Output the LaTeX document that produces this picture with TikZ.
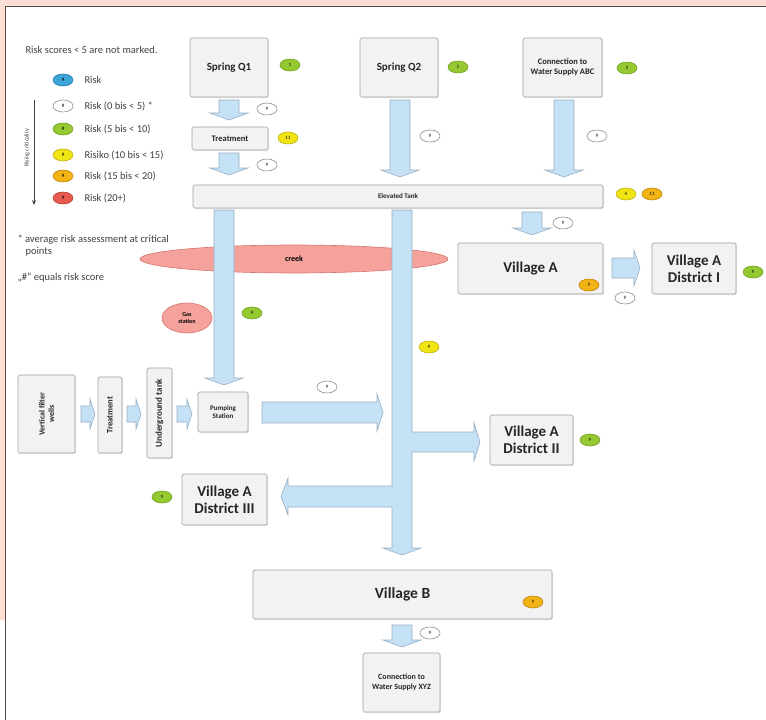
\documentclass[tikz,border=0pt]{standalone}
\usepackage{fontspec}
\setmainfont{Carlito}
\usetikzlibrary{shapes.geometric,shadows,arrows.meta}
\definecolor{pinkbg}{RGB}{252,222,212}
\definecolor{frameln}{RGB}{90,75,72}
\definecolor{boxfill}{RGB}{242,242,242}
\definecolor{boxline}{RGB}{160,160,160}
\definecolor{arrfill}{RGB}{197,225,245}
\definecolor{arrline}{RGB}{150,175,195}
\definecolor{bgreen}{RGB}{150,200,50}
\definecolor{bgreenl}{RGB}{110,160,30}
\definecolor{byellow}{RGB}{240,228,20}
\definecolor{byellowl}{RGB}{190,175,10}
\definecolor{borange}{RGB}{242,180,20}
\definecolor{borangel}{RGB}{190,130,10}
\definecolor{bred}{RGB}{232,90,80}
\definecolor{bredl}{RGB}{180,60,55}
\definecolor{bblue}{RGB}{60,165,215}
\definecolor{bbluel}{RGB}{30,120,170}
\definecolor{creekfill}{RGB}{246,162,156}
\definecolor{creekline}{RGB}{215,115,110}
\tikzset{
  box/.style={draw=boxline, fill=boxfill, rounded corners=1.5pt, line width=0.7pt,
    align=center, inner sep=1pt, text=black!85,
    drop shadow={opacity=0.18, shadow xshift=1pt, shadow yshift=-1pt}},
  badge/.style={ellipse, minimum width=20pt, minimum height=12pt, inner sep=0pt,
    line width=0.6pt, font=\fontsize{5}{5}\selectfont},
  bgr/.style={badge, fill=bgreen, draw=bgreenl},
  bye/.style={badge, fill=byellow, draw=byellowl},
  bor/.style={badge, fill=borange, draw=borangel},
  bre/.style={badge, fill=bred, draw=bredl},
  bbl/.style={badge, fill=bblue, draw=bbluel},
  bwh/.style={badge, fill=white, draw=black!45},
  blk/.style={fill=arrfill, draw=arrline, line width=0.6pt, line join=miter},
  lgtext/.style={anchor=west, font=\fontsize{10.5}{11}\selectfont, text=black!75},
}
\newcommand{\dnarrow}[3]{%
  \filldraw[blk] (#1-10,#2) -- (#1+10,#2) -- (#1+10,#3-7) -- (#1+19,#3-7) -- (#1,#3)
    -- (#1-19,#3-7) -- (#1-10,#3-7) -- cycle;}
\newcommand{\smallright}[3]{% x1 x2 ycenter
  \filldraw[blk] (#1,#3-8) -- (#2-5,#3-8) -- (#2-5,#3-15) -- (#2,#3) -- (#2-5,#3+15)
    -- (#2-5,#3+8) -- (#1,#3+8) -- cycle;}
\begin{document}
\begin{tikzpicture}[x=1pt,y=-1pt]
\useasboundingbox (0,0) rectangle (766,720);
% frame
\fill[pinkbg] (0,0) rectangle (766,6);
\fill[pinkbg] (0,0) rectangle (5,620);
\draw[frameln, line width=1.4pt] (5.5,720) -- (5.5,6.7) -- (766,6.7);

% legend
\node[lgtext] (lhead) at (22,50) {Risk scores < 5 are not marked.};
\node[bbl] (l1) at (63,80) {\#};
\node[bwh] (l2) at (63,106) {\#};
\node[bgr] (l3) at (63,129) {\#};
\node[bye] (l4) at (63,155) {\#};
\node[bor] (l5) at (63,176) {\#};
\node[bre] (l6) at (63,198) {\#};
\node[lgtext] (t1) at (81,80) {Risk};
\node[lgtext] (t2) at (81,106) {Risk (0 bis < 5) *};
\node[lgtext] (t3) at (81,129) {Risk (5 bis < 10)};
\node[lgtext] (t4) at (81,155) {Risiko (10 bis < 15)};
\node[lgtext] (t5) at (81,176) {Risk (15 bis < 20)};
\node[lgtext] (t6) at (81,198) {Risk (20+)};
\coordinate (rc1) at (34,100);
\coordinate (rc2) at (34,205);
\draw[-{Stealth[length=5pt,width=4pt]}, line width=0.8pt, black!75] (rc1) -- (rc2);
\node[rotate=90, font=\fontsize{6}{6}\selectfont, text=black!75] (rct) at (27,148) {Rising criticality};
\node[lgtext] (fn1) at (14,240) {* average risk assessment at critical};
\node[lgtext] (fn2) at (22,252) {points};
\node[lgtext] (fn3) at (14,278) {„\#“ equals risk score};

% creek and gas station
\node[ellipse, fill=creekfill, draw=creekline, line width=0.6pt, minimum width=308pt,
  minimum height=28pt, font=\bfseries\fontsize{8}{8}\selectfont] (creek) at (294,259) {creek};
\node[ellipse, fill=creekfill, draw=creekline, line width=0.6pt, minimum width=50pt,
  minimum height=30pt, inner sep=0pt, align=center, font=\bfseries\fontsize{6}{6.5}\selectfont] (gas) at (187,318) {Gas\\station};

% boxes
\node[box, minimum width=78pt, minimum height=59pt, font=\bfseries\fontsize{11}{12}\selectfont] (q1) at (229,67.5) {Spring Q1};
\node[box, minimum width=78pt, minimum height=59pt, font=\bfseries\fontsize{11}{12}\selectfont] (q2) at (399,67.5) {Spring Q2};
\node[box, minimum width=79pt, minimum height=59pt, font=\bfseries\fontsize{8.5}{10}\selectfont] (abc) at (562.5,67.5) {Connection to\\Water Supply ABC};
\node[box, minimum width=76pt, minimum height=23pt, font=\bfseries\fontsize{8.5}{9}\selectfont] (treat) at (230,138.5) {Treatment};
\node[box, minimum width=410pt, minimum height=23pt, font=\bfseries\fontsize{7}{8}\selectfont] (tank) at (398,196.5) {Elevated Tank};
\node[box, minimum width=145pt, minimum height=51pt, font=\bfseries\fontsize{15}{17}\selectfont] (villA) at (530.5,268.5) {Village A};
\node[box, minimum width=84pt, minimum height=51pt, font=\bfseries\fontsize{15}{17}\selectfont] (distI) at (694,268.5) {Village A\\District I};
\node[box, minimum width=83pt, minimum height=50pt, font=\bfseries\fontsize{15}{17}\selectfont] (distII) at (531.5,440) {Village A\\District II};
\node[box, minimum width=85pt, minimum height=51pt, font=\bfseries\fontsize{15}{17}\selectfont] (distIII) at (224.5,499.5) {Village A\\District III};
\node[box, minimum width=299pt, minimum height=49pt, font=\bfseries\fontsize{15.5}{17}\selectfont] (villB) at (402.5,594.5) {Village B};
\node[box, minimum width=77pt, minimum height=59pt, font=\bfseries\fontsize{8}{10}\selectfont] (xyz) at (401.5,682.5) {Connection to\\Water Supply XYZ};
\node[box, rotate=90, minimum width=78pt, minimum height=57pt, font=\bfseries\fontsize{8}{9.5}\selectfont] (wells) at (46.5,414) {Vertical filter\\wells};
\node[box, rotate=90, minimum width=76pt, minimum height=24pt, font=\bfseries\fontsize{8.5}{9}\selectfont] (treat2) at (110,415) {Treatment};
\node[box, rotate=90, minimum width=90pt, minimum height=25pt, font=\bfseries\fontsize{9}{9}\selectfont] (ugt) at (159.5,413) {Underground tank};
\node[box, minimum width=50pt, minimum height=40pt, font=\bfseries\fontsize{7}{8.5}\selectfont] (pump) at (223,412) {Pumping\\Station};

% block arrows
\dnarrow{229}{100}{120}
\dnarrow{229}{153}{175}
\dnarrow{400}{100}{177}
\dnarrow{564}{100}{177}
\dnarrow{532}{212}{235}
\dnarrow{224}{210}{385}
\dnarrow{402}{625}{647}
% Village A -> District I
\filldraw[blk] (612,258) -- (634,258) -- (634,250) -- (640,268) -- (634,286) -- (634,278) -- (612,278) -- cycle;
% pumping station -> trunk
\filldraw[blk] (262,402) -- (377,402) -- (377,394) -- (383,412.5) -- (377,431) -- (377,423) -- (262,423) -- cycle;
% trunk with branches
\filldraw[blk] (392,210) -- (412,210) -- (412,432) -- (474,432) -- (474,423) -- (480,442)
  -- (474,461) -- (474,452) -- (412,452) -- (412,548) -- (421,548) -- (402,555)
  -- (383,548) -- (392,548) -- (392,507) -- (288,507) -- (288,515) -- (281,496.5)
  -- (288,478) -- (288,486) -- (392,486) -- cycle;
% small chain arrows
\smallright{81}{95}{414}
\smallright{127}{141}{414}
\smallright{177}{192}{414}

% badges
\node[bgr] (b1) at (290,65) {1};
\node[bgr] (b2) at (458,67) {1};
\node[bgr] (b3) at (627,68) {3};
\node[bwh] (b4) at (267,109) {9};
\node[bye] (b5) at (288,138) {11};
\node[bwh] (b6) at (267,165) {9};
\node[bwh] (b7) at (430,136) {9};
\node[bwh] (b8) at (597,136) {9};
\node[bye] (b9) at (626,194) {4};
\node[bor] (b10) at (652,194) {11};
\node[bwh] (b11) at (563,223) {9};
\node[bor] (b12) at (589,285) {9};
\node[bwh] (b13) at (625,298) {9};
\node[bgr] (b14) at (753,272) {9};
\node[bgr] (b15) at (252,313) {9};
\node[bye] (b16) at (429,347) {9};
\node[bwh] (b17) at (327,387) {9};
\node[bgr] (b18) at (590,440) {9};
\node[bgr] (b19) at (162,497) {9};
\node[bor] (b20) at (533,602) {9};
\node[bwh] (b21) at (430,633) {9};
\end{tikzpicture}
\end{document}
